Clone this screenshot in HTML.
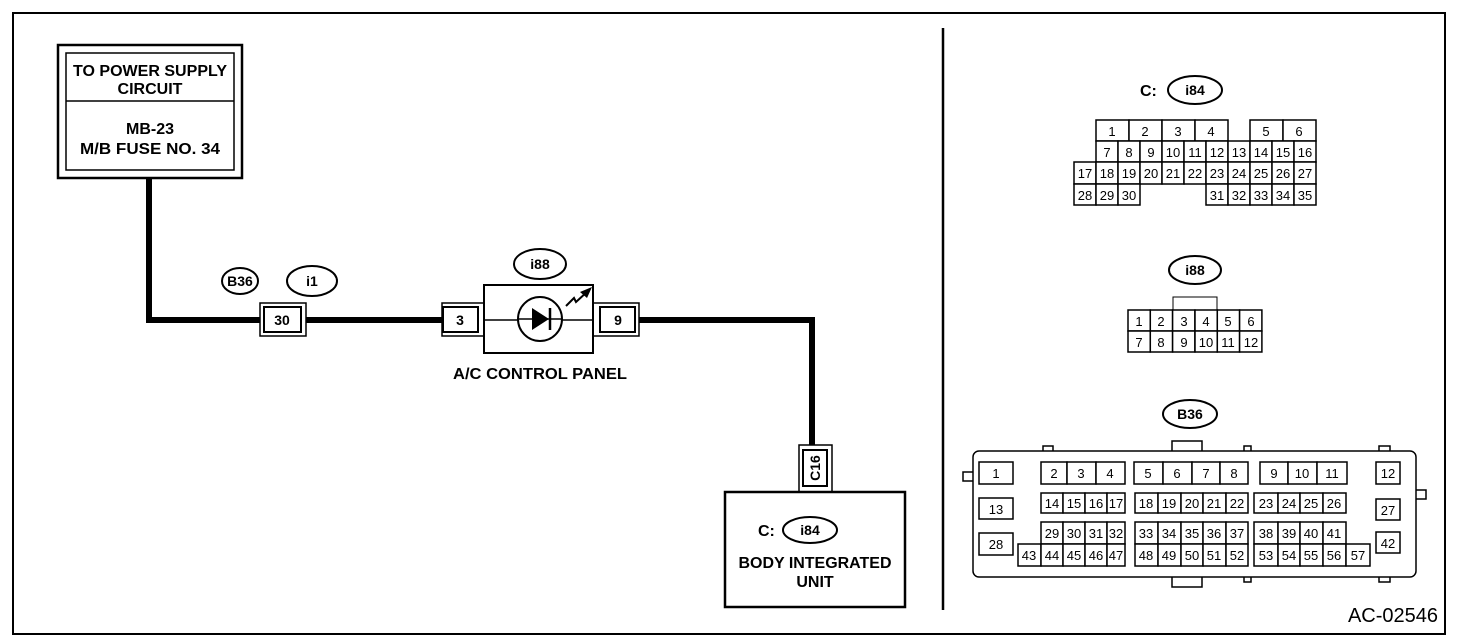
<!DOCTYPE html>
<html><head><meta charset="utf-8"><style>
html,body{margin:0;padding:0;background:#fff}
svg{display:block}
.b{font-family:"Liberation Sans",sans-serif;font-weight:bold;font-size:14px;fill:#000}
.L{font-size:16px}
.n{font-family:"Liberation Sans",sans-serif;font-size:13px;fill:#000;text-anchor:middle}
.c rect{fill:#fff;stroke:#000;stroke-width:1.5}
</style></head><body>
<svg width="1472" height="642" viewBox="0 0 1472 642" xmlns="http://www.w3.org/2000/svg">
<rect x="13" y="13" width="1432" height="621" fill="none" stroke="#000" stroke-width="2"/>
<line x1="943" y1="28" x2="943" y2="610" stroke="#000" stroke-width="2.5"/>

<!-- power box -->
<rect x="58" y="45" width="184" height="133" fill="#fff" stroke="#000" stroke-width="2.5"/>
<rect x="66" y="53" width="168" height="117" fill="none" stroke="#000" stroke-width="1.5"/>
<line x1="66" y1="101" x2="234" y2="101" stroke="#000" stroke-width="1.5"/>
<g class="b L" text-anchor="middle">
<text x="150" y="76" textLength="154" lengthAdjust="spacingAndGlyphs">TO POWER SUPPLY</text>
<text x="150" y="94">CIRCUIT</text>
<text x="150" y="134">MB-23</text>
<text x="150" y="154" textLength="140" lengthAdjust="spacingAndGlyphs">M/B FUSE NO. 34</text>
</g>

<!-- wires -->
<polyline points="149,178 149,320 260,320" fill="none" stroke="#000" stroke-width="6"/>
<line x1="306" y1="320" x2="442" y2="320" stroke="#000" stroke-width="6"/>
<polyline points="639,320 812,320 812,446" fill="none" stroke="#000" stroke-width="6"/>

<!-- connector 30 -->
<rect x="260" y="303" width="46" height="33" fill="#fff" stroke="#000" stroke-width="1.5"/>
<rect x="264" y="307" width="37" height="25" fill="#fff" stroke="#000" stroke-width="2"/>
<text class="b" x="282" y="325" text-anchor="middle">30</text>
<ellipse cx="240" cy="281" rx="18" ry="13" fill="none" stroke="#000" stroke-width="2"/>
<text class="b" x="240" y="286" text-anchor="middle">B36</text>
<ellipse cx="312" cy="281" rx="25" ry="15" fill="none" stroke="#000" stroke-width="2"/>
<text class="b" x="312" y="286" text-anchor="middle">i1</text>

<!-- connector 3 -->
<polyline points="484,303 442,303 442,336 484,336" fill="#fff" stroke="#000" stroke-width="1.5"/>
<rect x="443" y="307" width="35" height="25" fill="#fff" stroke="#000" stroke-width="2"/>
<text class="b" x="460" y="325" text-anchor="middle">3</text>
<!-- connector 9 -->
<polyline points="593,303 639,303 639,336 593,336" fill="#fff" stroke="#000" stroke-width="1.5"/>
<rect x="600" y="307" width="35" height="25" fill="#fff" stroke="#000" stroke-width="2"/>
<text class="b" x="618" y="325" text-anchor="middle">9</text>

<!-- panel -->
<rect x="484" y="285" width="109" height="68" fill="#fff" stroke="#000" stroke-width="2"/>
<line x1="484" y1="320" x2="593" y2="320" stroke="#000" stroke-width="1.5"/>
<circle cx="540" cy="319" r="22" fill="#fff" stroke="#000" stroke-width="2"/>
<line x1="518" y1="319" x2="562" y2="319" stroke="#000" stroke-width="1.5"/>
<polygon points="532,308 532,330 549,319" fill="#000"/>
<line x1="550" y1="308" x2="550" y2="330" stroke="#000" stroke-width="2.5"/>
<polyline points="566,306 574,298 576,302 588,291" fill="none" stroke="#000" stroke-width="2"/>
<polygon points="592,287 580,292 587,298" fill="#000"/>
<ellipse cx="540" cy="264" rx="26" ry="15" fill="none" stroke="#000" stroke-width="2"/>
<text class="b" x="540" y="269" text-anchor="middle">i88</text>
<text class="b L" x="540" y="379" text-anchor="middle" textLength="174" lengthAdjust="spacingAndGlyphs">A/C CONTROL PANEL</text>

<!-- C16 -->
<rect x="799" y="445" width="33" height="47" fill="#fff" stroke="#000" stroke-width="1.5"/>
<rect x="803" y="450" width="24" height="36" fill="#fff" stroke="#000" stroke-width="2"/>
<text class="b" transform="translate(820,468) rotate(-90)" text-anchor="middle">C16</text>
<rect x="725" y="492" width="180" height="115" fill="#fff" stroke="#000" stroke-width="2.5"/>
<text class="b L" x="758" y="536">C:</text>
<ellipse cx="810" cy="530" rx="27" ry="13" fill="none" stroke="#000" stroke-width="2"/>
<text class="b" x="810" y="535" text-anchor="middle">i84</text>
<text class="b L" x="815" y="568" text-anchor="middle" textLength="153" lengthAdjust="spacingAndGlyphs">BODY INTEGRATED</text>
<text class="b L" x="815" y="587" text-anchor="middle">UNIT</text>

<!-- i84 connector -->
<text class="b L" x="1140" y="96">C:</text>
<ellipse cx="1195" cy="90" rx="27" ry="14" fill="none" stroke="#000" stroke-width="2"/>
<text class="b" x="1195" y="95" text-anchor="middle">i84</text>
<g class="c">
<rect x="1096" y="120" width="33" height="21"/><rect x="1129" y="120" width="33" height="21"/><rect x="1162" y="120" width="33" height="21"/><rect x="1195" y="120" width="33" height="21"/><rect x="1250" y="120" width="33" height="21"/><rect x="1283" y="120" width="33" height="21"/>
<rect x="1096" y="141" width="22" height="21"/><rect x="1118" y="141" width="22" height="21"/><rect x="1140" y="141" width="22" height="21"/><rect x="1162" y="141" width="22" height="21"/><rect x="1184" y="141" width="22" height="21"/><rect x="1206" y="141" width="22" height="21"/><rect x="1228" y="141" width="22" height="21"/><rect x="1250" y="141" width="22" height="21"/><rect x="1272" y="141" width="22" height="21"/><rect x="1294" y="141" width="22" height="21"/>
<rect x="1074" y="162" width="22" height="22"/><rect x="1096" y="162" width="22" height="22"/><rect x="1118" y="162" width="22" height="22"/><rect x="1140" y="162" width="22" height="22"/><rect x="1162" y="162" width="22" height="22"/><rect x="1184" y="162" width="22" height="22"/><rect x="1206" y="162" width="22" height="22"/><rect x="1228" y="162" width="22" height="22"/><rect x="1250" y="162" width="22" height="22"/><rect x="1272" y="162" width="22" height="22"/><rect x="1294" y="162" width="22" height="22"/>
<rect x="1074" y="184" width="22" height="21"/><rect x="1096" y="184" width="22" height="21"/><rect x="1118" y="184" width="22" height="21"/>
<rect x="1206" y="184" width="22" height="21"/><rect x="1228" y="184" width="22" height="21"/><rect x="1250" y="184" width="22" height="21"/><rect x="1272" y="184" width="22" height="21"/><rect x="1294" y="184" width="22" height="21"/>
</g>
<g class="n">
<text x="1112" y="136">1</text><text x="1145" y="136">2</text><text x="1178" y="136">3</text><text x="1211" y="136">4</text><text x="1266" y="136">5</text><text x="1299" y="136">6</text>
<text x="1107" y="157">7</text><text x="1129" y="157">8</text><text x="1151" y="157">9</text><text x="1173" y="157">10</text><text x="1195" y="157">11</text><text x="1217" y="157">12</text><text x="1239" y="157">13</text><text x="1261" y="157">14</text><text x="1283" y="157">15</text><text x="1305" y="157">16</text>
<text x="1085" y="178">17</text><text x="1107" y="178">18</text><text x="1129" y="178">19</text><text x="1151" y="178">20</text><text x="1173" y="178">21</text><text x="1195" y="178">22</text><text x="1217" y="178">23</text><text x="1239" y="178">24</text><text x="1261" y="178">25</text><text x="1283" y="178">26</text><text x="1305" y="178">27</text>
<text x="1085" y="200">28</text><text x="1107" y="200">29</text><text x="1129" y="200">30</text><text x="1217" y="200">31</text><text x="1239" y="200">32</text><text x="1261" y="200">33</text><text x="1283" y="200">34</text><text x="1305" y="200">35</text>
</g>

<!-- i88 connector -->
<ellipse cx="1195" cy="270" rx="26" ry="14" fill="none" stroke="#000" stroke-width="2"/>
<text class="b" x="1195" y="275" text-anchor="middle">i88</text>
<rect x="1173" y="297" width="44" height="13" fill="#fff" stroke="#000" stroke-width="1"/>
<g class="c">
<rect x="1128" y="310" width="22.3" height="21"/><rect x="1150.3" y="310" width="22.3" height="21"/><rect x="1172.6" y="310" width="22.3" height="21"/><rect x="1195" y="310" width="22.3" height="21"/><rect x="1217.3" y="310" width="22.3" height="21"/><rect x="1239.6" y="310" width="22.3" height="21"/>
<rect x="1128" y="331" width="22.3" height="21"/><rect x="1150.3" y="331" width="22.3" height="21"/><rect x="1172.6" y="331" width="22.3" height="21"/><rect x="1195" y="331" width="22.3" height="21"/><rect x="1217.3" y="331" width="22.3" height="21"/><rect x="1239.6" y="331" width="22.3" height="21"/>
</g>
<g class="n">
<text x="1139" y="326">1</text><text x="1161" y="326">2</text><text x="1184" y="326">3</text><text x="1206" y="326">4</text><text x="1228" y="326">5</text><text x="1251" y="326">6</text>
<text x="1139" y="347">7</text><text x="1161" y="347">8</text><text x="1184" y="347">9</text><text x="1206" y="347">10</text><text x="1228" y="347">11</text><text x="1251" y="347">12</text>
</g>

<!-- B36 connector -->
<ellipse cx="1190" cy="414" rx="27" ry="14" fill="none" stroke="#000" stroke-width="2"/>
<text class="b" x="1190" y="419" text-anchor="middle">B36</text>
<g fill="#fff" stroke="#000" stroke-width="1.5">
<rect x="1043" y="446" width="10" height="8"/><rect x="1172" y="441" width="30" height="13"/><rect x="1244" y="446" width="7" height="8"/><rect x="1379" y="446" width="11" height="8"/>
<rect x="1172" y="574" width="30" height="13"/><rect x="1244" y="574" width="7" height="8"/><rect x="1379" y="574" width="11" height="8"/>
<rect x="963" y="472" width="13" height="9"/><rect x="1413" y="490" width="13" height="9"/>
<rect x="973" y="451" width="443" height="126" rx="6"/>
</g>
<g class="c">
<rect x="979" y="462" width="34" height="22"/>
<rect x="1041" y="462" width="26" height="22"/><rect x="1067" y="462" width="29" height="22"/><rect x="1096" y="462" width="29" height="22"/>
<rect x="1134" y="462" width="29" height="22"/><rect x="1163" y="462" width="29" height="22"/><rect x="1192" y="462" width="28" height="22"/><rect x="1220" y="462" width="28" height="22"/>
<rect x="1260" y="462" width="28" height="22"/><rect x="1288" y="462" width="29" height="22"/><rect x="1317" y="462" width="30" height="22"/>
<rect x="1376" y="462" width="24" height="22"/>
<rect x="979" y="498" width="34" height="21"/><rect x="1376" y="499" width="24" height="21"/>
<rect x="979" y="533" width="34" height="22"/><rect x="1376" y="532" width="24" height="21"/>
<rect x="1041" y="493" width="22" height="20"/><rect x="1063" y="493" width="22" height="20"/><rect x="1085" y="493" width="22" height="20"/><rect x="1107" y="493" width="18" height="20"/>
<rect x="1135" y="493" width="23" height="20"/><rect x="1158" y="493" width="23" height="20"/><rect x="1181" y="493" width="22" height="20"/><rect x="1203" y="493" width="23" height="20"/><rect x="1226" y="493" width="22" height="20"/>
<rect x="1254" y="493" width="24" height="20"/><rect x="1278" y="493" width="22" height="20"/><rect x="1300" y="493" width="23" height="20"/><rect x="1323" y="493" width="23" height="20"/>
<rect x="1041" y="522" width="22" height="22"/><rect x="1063" y="522" width="22" height="22"/><rect x="1085" y="522" width="22" height="22"/><rect x="1107" y="522" width="18" height="22"/>
<rect x="1135" y="522" width="23" height="22"/><rect x="1158" y="522" width="23" height="22"/><rect x="1181" y="522" width="22" height="22"/><rect x="1203" y="522" width="23" height="22"/><rect x="1226" y="522" width="22" height="22"/>
<rect x="1254" y="522" width="24" height="22"/><rect x="1278" y="522" width="22" height="22"/><rect x="1300" y="522" width="23" height="22"/><rect x="1323" y="522" width="23" height="22"/>
<rect x="1018" y="544" width="23" height="22"/><rect x="1041" y="544" width="22" height="22"/><rect x="1063" y="544" width="22" height="22"/><rect x="1085" y="544" width="22" height="22"/><rect x="1107" y="544" width="18" height="22"/>
<rect x="1135" y="544" width="23" height="22"/><rect x="1158" y="544" width="23" height="22"/><rect x="1181" y="544" width="22" height="22"/><rect x="1203" y="544" width="23" height="22"/><rect x="1226" y="544" width="22" height="22"/>
<rect x="1254" y="544" width="24" height="22"/><rect x="1278" y="544" width="22" height="22"/><rect x="1300" y="544" width="23" height="22"/><rect x="1323" y="544" width="23" height="22"/><rect x="1346" y="544" width="24" height="22"/>
</g>
<g class="n">
<text x="996" y="478">1</text><text x="1054" y="478">2</text><text x="1081" y="478">3</text><text x="1110" y="478">4</text>
<text x="1148" y="478">5</text><text x="1177" y="478">6</text><text x="1206" y="478">7</text><text x="1234" y="478">8</text>
<text x="1274" y="478">9</text><text x="1302" y="478">10</text><text x="1332" y="478">11</text><text x="1388" y="478">12</text>
<text x="996" y="514">13</text><text x="1388" y="515">27</text><text x="996" y="549">28</text><text x="1388" y="548">42</text>
<text x="1052" y="508">14</text><text x="1074" y="508">15</text><text x="1096" y="508">16</text><text x="1116" y="508">17</text>
<text x="1146" y="508">18</text><text x="1169" y="508">19</text><text x="1192" y="508">20</text><text x="1214" y="508">21</text><text x="1237" y="508">22</text>
<text x="1266" y="508">23</text><text x="1289" y="508">24</text><text x="1311" y="508">25</text><text x="1334" y="508">26</text>
<text x="1052" y="538">29</text><text x="1074" y="538">30</text><text x="1096" y="538">31</text><text x="1116" y="538">32</text>
<text x="1146" y="538">33</text><text x="1169" y="538">34</text><text x="1192" y="538">35</text><text x="1214" y="538">36</text><text x="1237" y="538">37</text>
<text x="1266" y="538">38</text><text x="1289" y="538">39</text><text x="1311" y="538">40</text><text x="1334" y="538">41</text>
<text x="1029" y="560">43</text><text x="1052" y="560">44</text><text x="1074" y="560">45</text><text x="1096" y="560">46</text><text x="1116" y="560">47</text>
<text x="1146" y="560">48</text><text x="1169" y="560">49</text><text x="1192" y="560">50</text><text x="1214" y="560">51</text><text x="1237" y="560">52</text>
<text x="1266" y="560">53</text><text x="1289" y="560">54</text><text x="1311" y="560">55</text><text x="1334" y="560">56</text><text x="1358" y="560">57</text>
</g>

<text x="1438" y="622" text-anchor="end" style="font-family:'Liberation Sans',sans-serif;font-size:20px">AC-02546</text>
</svg>
</body></html>
